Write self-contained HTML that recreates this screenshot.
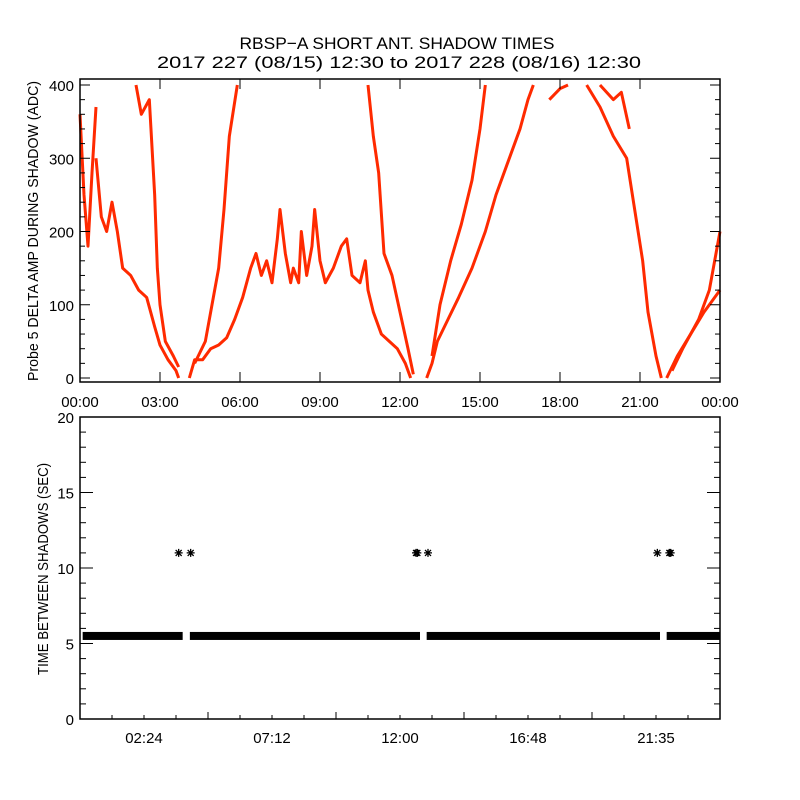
<!DOCTYPE html>
<html><head><meta charset="utf-8"><style>
html,body{margin:0;padding:0;background:#fff;}
svg{display:block;font-family:"Liberation Sans",sans-serif;}
</style></head><body>
<svg id="chart" width="800" height="800" viewBox="0 0 800 800">
<rect width="800" height="800" fill="#fff"/>
<text x="397" y="49" font-size="17" text-anchor="middle" textLength="315" lengthAdjust="spacingAndGlyphs">RBSP−A SHORT ANT. SHADOW TIMES</text>
<text x="399" y="68" font-size="17" text-anchor="middle" textLength="484" lengthAdjust="spacingAndGlyphs">2017 227 (08/15) 12:30 to 2017 228 (08/16) 12:30</text>
<g id="topPanel"></g>
<g id="botPanel"></g>
</svg>
<script>
// ---- top panel data: branches of [hour, adc] ----
const branch1 = [[0,360],[0.15,250],[0.3,180],[0.45,280],[0.6,370]];
const branch2 = [[0.6,300],[0.8,220],[1.0,200],[1.2,240],[1.4,200],[1.6,150],[1.9,140],[2.2,120],[2.5,110],[2.8,70],[3.0,45],[3.3,25],[3.6,10],[3.7,0]];
const branch3 = [[2.1,400],[2.3,360],[2.6,380],[2.8,250],[2.9,150],[3.0,100],[3.2,50],[3.5,30],[3.7,15]];
const branch4 = [[4.1,0],[4.3,25],[4.6,25],[4.9,40],[5.2,45],[5.5,55],[5.8,80],[6.1,110],[6.4,150],[6.6,170],[6.8,140],[7.0,160],[7.2,130],[7.4,190],[7.5,230],[7.7,170],[7.9,130],[8.0,150],[8.2,130],[8.3,200],[8.5,140],[8.7,180],[8.8,230],[9.0,160],[9.2,130],[9.5,150],[9.8,180],[10.0,190],[10.2,140],[10.5,130],[10.7,160],[10.8,120],[11.0,90],[11.3,60],[11.6,50],[11.9,40],[12.2,20],[12.4,0]];
const branch5 = [[4.3,20],[4.7,50],[5.0,110],[5.2,150],[5.4,230],[5.6,330],[5.9,400]];
const branch6 = [[10.8,400],[11.0,330],[11.2,280],[11.4,170],[11.7,140],[12.0,90],[12.3,40],[12.5,5]];
const branch7 = [[13.0,0],[13.2,20],[13.4,50],[13.8,80],[14.2,110],[14.7,150],[15.2,200],[15.6,250],[16.0,290],[16.5,340],[16.8,380],[17.0,400]];
const branch8 = [[13.2,30],[13.5,100],[13.9,160],[14.3,210],[14.7,270],[15.0,340],[15.2,400]];
const branch9 = [[17.6,380],[18.0,395],[18.3,400]];
const branch10 = [[19.0,400],[19.5,370],[20.0,330],[20.5,300],[20.8,230],[21.1,160],[21.3,90],[21.6,30],[21.8,0]];
const branch11 = [[19.5,400],[20.0,380],[20.3,390],[20.6,340]];
const branch12 = [[22.0,0],[22.4,30],[22.9,60],[23.4,90],[24,120]];
const branch13 = [[22.2,10],[22.6,40],[23.2,80],[23.6,120],[24,200]];
const topBranches = [branch1,branch2,branch3,branch4,branch5,branch6,branch7,branch8,branch9,branch10,branch11,branch12,branch13];
const topXTicks = ["00:00","03:00","06:00","09:00","12:00","15:00","18:00","21:00","00:00"];
const topYTicks = [0,100,200,300,400];
// ---- bottom panel data ----
const bandSegments = [[0.1,3.85],[4.12,12.75],[13.0,21.75],[22.0,24]];
const bandValue = [5.5,5.5,5.5,5.5];
const outlierHours = [3.7,4.15,12.6,12.65,13.05,21.65,22.1,22.15];
const outlierValues = [11,11,11,11,11,11,11,11];
const botXTicks = ["02:24","07:12","12:00","16:48","21:35"];
const botYTicks = [0,5,10,15,20];

const NS="http://www.w3.org/2000/svg";
function mk(parent,tag,attrs){const e=document.createElementNS(NS,tag);for(const k in attrs)e.setAttribute(k,attrs[k]);parent.appendChild(e);return e;}
const L=80,R=720;
const tx=h=>L+h*(R-L)/24;
const ty=v=>378-v*(378-85)/400;
const by=v=>719-v*(719-417)/20;

const topG=document.getElementById('topPanel');
const botG=document.getElementById('botPanel');

topBranches.forEach((b,i)=>{
  const p=mk(topG,'polyline',{points:b.map(d=>tx(d[0])+','+ty(d[1])).join(' '),fill:'none',stroke:'#ff2a00','stroke-width':3,'stroke-linejoin':'round'});
  
  
});
const tf=mk(topG,'rect',{x:80,y:79,width:640,height:303,fill:'none',stroke:'#000','stroke-width':1.5});


for(let v=0;v<=400;v+=20){
  const len=(v%100===0)?10:5;
  mk(topG,'line',{x1:80,x2:80+len,y1:ty(v),y2:ty(v),stroke:'#000'});
  mk(topG,'line',{x1:720,x2:720-len,y1:ty(v),y2:ty(v),stroke:'#000'});
}
topYTicks.forEach(v=>{
  const t=mk(topG,'text',{x:74,y:ty(v)+6,'font-size':15,'text-anchor':'end'});
  t.textContent=v;
  
  
});
topXTicks.forEach((s,i)=>{
  const x=tx(i*3);
  mk(topG,'line',{x1:x,x2:x,y1:382,y2:372,stroke:'#000'});
  mk(topG,'line',{x1:x,x2:x,y1:79,y2:89,stroke:'#000'});
  const t=mk(topG,'text',{x:x,y:407,'font-size':15,'text-anchor':'middle'});
  t.textContent=s;
  
  
});
const tyt=mk(topG,'text',{x:0,y:0,'font-size':15,'text-anchor':'middle',transform:'translate(38,231) rotate(-90)',textLength:300,lengthAdjust:'spacingAndGlyphs'});
tyt.textContent='Probe 5 DELTA AMP DURING SHADOW (ADC)';



bandSegments.forEach((s,i)=>{
  const r=mk(botG,'rect',{x:tx(s[0]),y:by(bandValue[i])-4,width:tx(s[1])-tx(s[0]),height:8,fill:'#000'});
  
  
});
outlierHours.forEach((h,i)=>{
  const cx=tx(h), cy=by(outlierValues[i]);
  const g=mk(botG,'path',{d:`M${cx-4},${cy}H${cx+4}M${cx},${cy-4}V${cy+4}M${cx-3},${cy-3}L${cx+3},${cy+3}M${cx-3},${cy+3}L${cx+3},${cy-3}`,stroke:'#000','stroke-width':1.3,fill:'none'});
  
  
});
const bf=mk(botG,'rect',{x:80,y:417,width:640,height:302,fill:'none',stroke:'#000','stroke-width':1.5});


for(let v=0;v<=20;v++){
  const len=(v%5===0)?13:6;
  mk(botG,'line',{x1:80,x2:80+len,y1:by(v),y2:by(v),stroke:'#000'});
  mk(botG,'line',{x1:720,x2:720-len,y1:by(v),y2:by(v),stroke:'#000'});
}
botYTicks.forEach(v=>{
  const t=mk(botG,'text',{x:74,y:by(v)+6,'font-size':15,'text-anchor':'end'});
  t.textContent=v;
  
  
});
for(let k=1;k<20;k++){
  const x=tx(k*1.2);
  const len=(k%4===0)?7:4;
  mk(botG,'line',{x1:x,x2:x,y1:719,y2:719-len,stroke:'#000'});
}
botXTicks.forEach((s,i)=>{
  const x=tx((i+0.5)*4.8);
  const t=mk(botG,'text',{x:x,y:743,'font-size':15,'text-anchor':'middle'});
  t.textContent=s;
  
  
});
const byt=mk(botG,'text',{x:0,y:0,'font-size':15,'text-anchor':'middle',transform:'translate(48,569) rotate(-90)',textLength:212,lengthAdjust:'spacingAndGlyphs'});
byt.textContent='TIME BETWEEN SHADOWS (SEC)';


</script>
</body></html>
